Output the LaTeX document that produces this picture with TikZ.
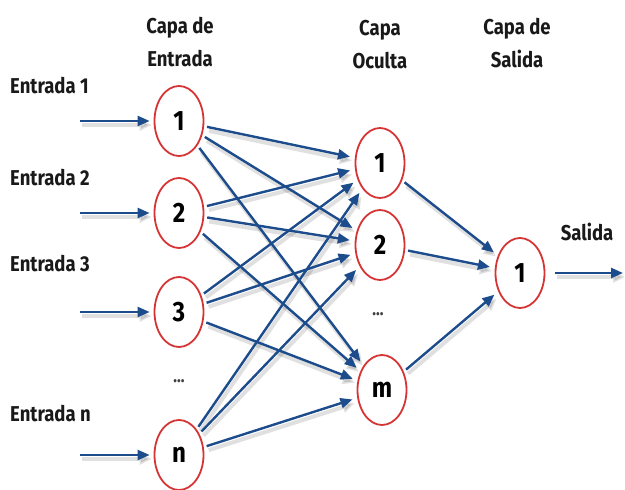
\documentclass[tikz,border=0pt]{standalone}
\usepackage{fontspec}
\setmainfont{Fira Sans}[FakeStretch=0.86]
\usetikzlibrary{arrows.meta,shapes.geometric}
\definecolor{nred}{RGB}{214,52,52}
\definecolor{nblue}{RGB}{28,76,140}
\tikzset{
  neuron/.style={ellipse, draw=nred, line width=1.8pt, fill=white,
    minimum width=49pt, minimum height=70pt, inner sep=0pt,
    font=\fontsize{28}{28}\selectfont\bfseries},
  layer/.style={font=\fontsize{21.5}{33}\selectfont\bfseries, align=center, text=black!90},
  inlabel/.style={font=\fontsize{21.5}{22}\selectfont\bfseries, anchor=west, text=black!90, inner sep=0pt},
  dotsmark/.style={font=\fontsize{18}{18}\selectfont\bfseries, text=black!75},
  conn/.style={draw=nblue, line width=2.4pt, -{Triangle[length=12pt,width=10pt]},
    shorten >=5pt, shorten <=3pt},
  shadowline/.style={draw=black, opacity=0.12, line width=4pt,
    -{Triangle[length=12pt,width=11pt]}, shorten >=5pt, shorten <=3pt}
}
\begin{document}
\begin{tikzpicture}[x=1pt,y=-1pt]
\useasboundingbox[fill=white] (0,0) rectangle (625,490);

% layer titles
\node[layer] (tin)  at (180,42) {Capa de\\Entrada};
\node[layer] (thid) at (380,45) {Capa\\Oculta};
\node[layer] (tout) at (517,43) {Capa de\\Salida};

% input labels
\node[inlabel] (l1) at (10,86)  {Entrada 1};
\node[inlabel] (l2) at (10,178) {Entrada 2};
\node[inlabel] (l3) at (10,264) {Entrada 3};
\node[inlabel] (ln) at (10,414) {Entrada n};
\node[font=\fontsize{21.5}{22}\selectfont\bfseries, text=black!90] (lout) at (587,232) {Salida};

% neurons
\node[neuron] (i1) at (179,121) {1};
\node[neuron] (i2) at (179,213) {2};
\node[neuron] (i3) at (179,312) {3};
\node[neuron] (in) at (179,455) {n};
\node[neuron] (h1) at (380,163) {1};
\node[neuron] (h2) at (380,245) {2};
\node[neuron] (hm) at (382,390) {m};
\node[neuron] (o1) at (520,273) {1};

\node[dotsmark] (d1) at (179,381) {...};
\node[dotsmark] (d2) at (378,314) {...};

% free ends of the input and output arrows
\coordinate (s1) at (80,121);
\coordinate (s2) at (80,213);
\coordinate (s3) at (80,312);
\coordinate (sn) at (80,455);
\coordinate (e1) at (623,273);

% soft shadows
\foreach \a/\b in {s1/i1,s2/i2,s3/i3,sn/in}
  \draw[shadowline, shorten >=4pt, shorten <=0pt, transform canvas={shift={(2pt,-4pt)}}] (\a) -- (\b.west);
\foreach \a in {i1,i2,i3,in}
  \foreach \b in {h1,h2,hm}
    \draw[shadowline, transform canvas={shift={(2pt,-4pt)}}] (\a) -- (\b);
\foreach \a in {h1,h2,hm}
  \draw[shadowline, transform canvas={shift={(2pt,-4pt)}}] (\a) -- (o1);
\draw[shadowline, shorten >=0pt, shorten <=10pt, transform canvas={shift={(2pt,-4pt)}}] (o1.east) -- (e1);

% input arrows
\foreach \a/\b in {s1/i1,s2/i2,s3/i3,sn/in}
  \draw[conn, shorten >=4pt, shorten <=0pt] (\a) -- (\b.west);

% input to hidden layer
\foreach \a in {i1,i2,i3,in}
  \foreach \b in {h1,h2,hm}
    \draw[conn] (\a) -- (\b);

% hidden to output layer
\foreach \a in {h1,h2,hm}
  \draw[conn] (\a) -- (o1);

% output arrow
\draw[conn, shorten >=0pt, shorten <=10pt] (o1.east) -- (e1);
\end{tikzpicture}
\end{document}
